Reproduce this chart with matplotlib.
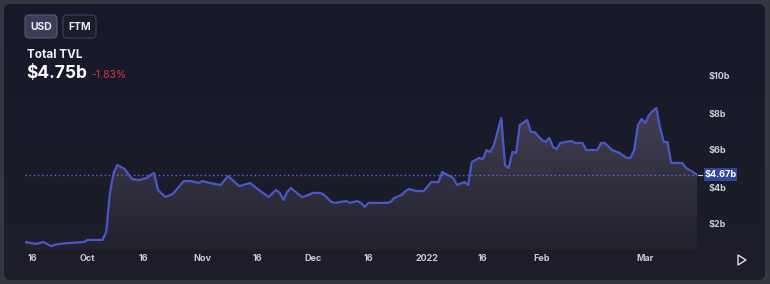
import numpy as np
import pandas as pd
import matplotlib
matplotlib.use("Agg")
import matplotlib.pyplot as plt
import matplotlib.dates as mdates
from matplotlib.patches import FancyBboxPatch, Polygon, Rectangle

plt.rcParams['font.family'] = ['Inter', 'DejaVu Sans']

# Total TVL (billions USD)
dates = [
    "2021-09-14", "2021-09-17", "2021-09-19", "2021-09-21", "2021-09-23", "2021-09-26",
    "2021-09-30", "2021-10-01", "2021-10-05", "2021-10-06", "2021-10-07", "2021-10-08",
    "2021-10-09", "2021-10-11", "2021-10-13", "2021-10-15", "2021-10-17", "2021-10-18",
    "2021-10-19", "2021-10-20", "2021-10-22", "2021-10-24", "2021-10-27", "2021-10-29",
    "2021-10-31", "2021-11-01", "2021-11-03", "2021-11-06", "2021-11-08", "2021-11-11",
    "2021-11-14", "2021-11-16", "2021-11-19", "2021-11-21", "2021-11-22", "2021-11-23",
    "2021-11-24", "2021-11-25", "2021-11-27", "2021-11-28", "2021-11-29", "2021-12-01",
    "2021-12-03", "2021-12-04", "2021-12-06", "2021-12-07", "2021-12-10", "2021-12-11",
    "2021-12-13", "2021-12-14", "2021-12-15", "2021-12-16", "2021-12-18", "2021-12-21",
    "2021-12-22", "2021-12-23", "2021-12-25", "2021-12-26", "2021-12-27", "2021-12-29",
    "2021-12-31", "2022-01-02", "2022-01-04", "2022-01-05", "2022-01-06", "2022-01-08",
    "2022-01-09", "2022-01-11", "2022-01-12", "2022-01-13", "2022-01-15", "2022-01-16",
    "2022-01-17", "2022-01-18", "2022-01-19", "2022-01-21", "2022-01-22", "2022-01-23",
    "2022-01-24", "2022-01-25", "2022-01-26", "2022-01-28", "2022-01-29", "2022-01-30",
    "2022-02-01", "2022-02-02", "2022-02-03", "2022-02-04", "2022-02-05", "2022-02-06",
    "2022-02-09", "2022-02-10", "2022-02-12", "2022-02-13", "2022-02-16", "2022-02-17",
    "2022-02-18", "2022-02-20", "2022-02-22", "2022-02-24", "2022-02-25", "2022-02-26",
    "2022-02-27", "2022-02-28", "2022-03-01", "2022-03-02", "2022-03-03", "2022-03-04",
    "2022-03-05", "2022-03-06", "2022-03-07", "2022-03-08", "2022-03-11", "2022-03-12",
    "2022-03-13", "2022-03-15",
]
tvl = [
    1.03, 0.92, 1.03, 0.81, 0.92, 0.97,
    1.03, 1.14, 1.14, 1.57, 3.68, 4.76,
    5.19, 4.97, 4.43, 4.38, 4.49, 4.65,
    4.76, 3.84, 3.46, 3.62, 4.32, 4.32,
    4.22, 4.32, 4.22, 4.11, 4.59, 4.05,
    4.22, 3.89, 3.46, 3.84, 3.68, 3.30,
    3.73, 3.95, 3.62, 3.46, 3.51, 3.68,
    3.68, 3.57, 3.19, 3.14, 3.24, 3.14,
    3.24, 3.14, 2.92, 3.14, 3.14, 3.14,
    3.19, 3.41, 3.57, 3.78, 3.89, 3.78,
    3.78, 4.27, 4.27, 4.81, 4.70, 4.49,
    4.11, 4.27, 4.11, 5.35, 5.57, 5.51,
    6.00, 5.89, 6.27, 7.73, 5.19, 5.03,
    5.89, 5.84, 7.35, 7.62, 6.97, 6.97,
    6.54, 6.43, 6.65, 6.16, 6.05, 6.38,
    6.49, 6.38, 6.38, 6.00, 6.00, 6.38,
    6.38, 6.00, 5.84, 5.57, 5.57, 6.00,
    7.35, 7.68, 7.46, 7.89, 8.11, 8.27,
    7.19, 6.43, 6.43, 5.30, 5.30, 5.03,
    4.92, 4.67,
]
current_price = 4.67
y_ticks = [2, 4, 6, 8, 10]
x_tick_dates = ["2021-09-16", "2021-10-01", "2021-10-16", "2021-11-01", "2021-11-16",
                "2021-12-01", "2021-12-16", "2022-01-01", "2022-01-16", "2022-02-01",
                "2022-03-01"]
x_tick_labels = ["16", "Oct", "16", "Nov", "16", "Dec", "16", "2022", "16", "Feb", "Mar"]

W, H = 770, 284
x = pd.to_datetime(dates)
xt = pd.to_datetime(x_tick_dates)

fig = plt.figure(figsize=(W / 100, H / 100), dpi=100)
fig.patch.set_facecolor("#34363f")

# background panel with a soft vertical gradient
bg = fig.add_axes([0, 0, 1, 1])
bg.set_xlim(0, W)
bg.set_ylim(H, 0)
bg.axis("off")
panel = FancyBboxPatch((4, 4), 761, 276, boxstyle="round,pad=0,rounding_size=6",
                       facecolor="#1c1d2b", edgecolor="#3a3d4c", linewidth=0.8)
bg.add_patch(panel)
grad = np.linspace(0, 1, 256).reshape(-1, 1)
top_c = np.array([0x17, 0x19, 0x2c]) / 255
bot_c = np.array([0x1d, 0x1e, 0x28]) / 255
img = top_c + (bot_c - top_c) * grad[..., None]
im = bg.imshow(img, extent=[4, 765, 280, 4], aspect="auto", zorder=1)
im.set_clip_path(panel)

# buttons
bg.add_patch(FancyBboxPatch((25, 15), 32, 23, boxstyle="round,pad=0,rounding_size=4",
                            facecolor="#3a3e57", edgecolor="#555a75", linewidth=0.8, zorder=3))
bg.add_patch(FancyBboxPatch((63, 15), 33, 23, boxstyle="round,pad=0,rounding_size=4",
                            facecolor="#1b1d2d", edgecolor="#3d4158", linewidth=0.8, zorder=3))
bg.text(41, 27, "USD", color="#e8e9f0", fontsize=7.5, fontweight="bold",
        ha="center", va="center", zorder=4)
bg.text(79.5, 27, "FTM", color="#e8e9f0", fontsize=7.5, fontweight="bold",
        ha="center", va="center", zorder=4)

bg.text(27, 55, "Total TVL", color="#f0f0f5", fontsize=8.5, fontweight="bold",
        ha="left", va="center", zorder=4)
bg.text(26, 74, "$4.75b", color="#ffffff", fontsize=12.5, fontweight="bold",
        ha="left", va="center", zorder=4)
bg.text(91, 75, "-1.83%", color="#e0303f", fontsize=7.5,
        ha="left", va="center", zorder=4)

# play triangle
bg.add_patch(Polygon([[738, 255], [738, 265], [746, 260]], closed=True,
                     facecolor="none", edgecolor="#e0e0e8", linewidth=1.0, zorder=4))

# main chart axes, pixel box 25..697 x 60..250
px_l, px_r, px_t, px_b = 25, 697, 60, 250
y_zero_px, px_per_b = 261, 18.5
ymin = (y_zero_px - px_b) / px_per_b
ymax = (y_zero_px - px_t) / px_per_b
ax = fig.add_axes([px_l / W, 1 - px_b / H, (px_r - px_l) / W, (px_b - px_t) / H])
ax.patch.set_alpha(0)
ax.set_xlim(x[0], x[-1])
ax.set_ylim(ymin, ymax)
for s in ax.spines.values():
    s.set_visible(False)

# gradient fill under the line
fill = ax.fill_between(x, tvl, ymin, facecolor="none", edgecolor="none")
fg = np.linspace(0, 1, 256).reshape(-1, 1)
c_top = np.array([0x42, 0x3f, 0x52]) / 255
c_bot = np.array([0x22, 0x22, 0x2d]) / 255
fimg = c_bot + (c_top - c_bot) * fg[..., None]
xn = mdates.date2num(x)
fim = ax.imshow(fimg, extent=[xn[0], xn[-1], ymin, max(tvl)], origin="lower",
                aspect="auto", zorder=1)
verts = fill.get_paths()[0]
fim.set_clip_path(verts, transform=ax.transData)

ax.plot(x, tvl, color="#4a58c6", linewidth=1.6, zorder=3, solid_joinstyle="round")
ax.axhline(current_price, color="#5a6ce0", linewidth=1.0, linestyle=(0, (1.0, 2.0)), zorder=2)

ax.yaxis.tick_right()
ax.set_yticks(y_ticks)
ax.set_yticklabels([f"${v}b" for v in y_ticks])
ax.tick_params(axis="y", length=0, pad=8, labelsize=6.5, labelcolor="#c9cad4")
ax.set_xticks(xt)
ax.set_xticklabels(x_tick_labels)
ax.tick_params(axis="x", length=0, pad=3, labelsize=6.5, labelcolor="#c9cad4")
for lbl in ax.get_xticklabels() + ax.get_yticklabels():
    lbl.set_fontweight("bold")

# current price tag
py = y_zero_px - current_price * px_per_b
bg.plot([698, 702], [py, py], color="#c9cad4", linewidth=0.8, zorder=5)
bg.add_patch(Rectangle((704, py - 6.5), 33, 13, facecolor="#3445a0", edgecolor="none", zorder=4))
bg.text(720.5, py, "$4.67b", color="#ffffff", fontsize=6.5, fontweight="bold",
        ha="center", va="center", zorder=5)

fig.savefig("out.png", dpi=100, facecolor=fig.get_facecolor())
